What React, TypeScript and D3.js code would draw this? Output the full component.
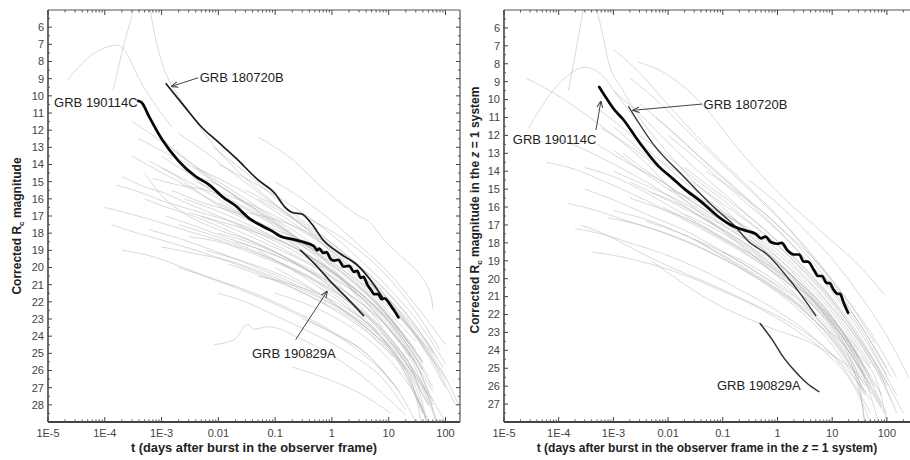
import * as d3 from "d3";

type Pt = [number, number];

// x axis: decades, shared by both panels
const decadeTicks = [1e-5, 1e-4, 1e-3, 0.01, 0.1, 1, 10, 100];
const decadeLabels = ["1E-5", "1E-4", "1E-3", "0.01", "0.1", "1", "10", "100"];
const observerMagTicks = [6, 7, 8, 9, 10, 11, 12, 13, 14, 15, 16, 17, 18, 19, 20, 21, 22, 23, 24, 25, 26, 27, 28];
const restMagTicks = [6, 7, 8, 9, 10, 11, 12, 13, 14, 15, 16, 17, 18, 19, 20, 21, 22, 23, 24, 25, 26, 27];

// --- observer frame (left) ---
const observerGrey: Pt[][] = [
  [[1.4e-4, 9.7], [2e-4, 7.5], [3.2e-4, 5.0]],
  [[6.3e-4, 5.0], [8e-4, 6.8], [1.07e-3, 8.3], [2e-3, 10.0], [4e-3, 11.5], [0.01, 13.2], [0.03, 14.8], [0.1, 16.3], [0.5, 18.2], [2, 20.2], [10, 22.8], [40, 25.5]],
  [[2.2e-5, 9.1], [5e-5, 7.8], [1e-4, 7.2], [1.7e-4, 7.05], [2.5e-4, 7.6], [4e-4, 9.0], [7e-4, 10.3], [1.5e-3, 11.8]],
  [[0.05, 12.4], [0.2, 13.7], [0.6, 15.2], [1.25, 16.1], [2, 16.6], [3, 17.0], [4.4, 17.3], [8.3, 18.4], [20, 19.6], [33, 20.3], [56, 21.7], [60, 22.4]],
  [[0.2, 25.8], [1, 26.6], [3, 27.3], [11, 28.5]],
  [[8.3e-3, 24.5], [0.019, 24.2], [0.033, 23.3], [0.042, 23.6], [0.074, 23.45], [0.3, 24.2], [3, 26.2], [20, 28.6]],
  [[1e-3, 12.5], [3e-3, 13.8], [0.01, 15.0], [0.03, 16.0], [0.1, 17.2], [0.3, 18.2], [1, 19.6], [3, 21.0], [10, 22.8], [30, 24.8]],
  [[2e-3, 14.0], [0.01, 15.8], [0.03, 16.6], [0.1, 17.6], [0.3, 18.7], [1, 20.2], [3, 21.6], [10, 23.5], [40, 26.0]],
  [[1.5e-3, 15.5], [5e-3, 16.2], [0.02, 16.8], [0.1, 17.9], [0.3, 19.0], [1, 20.6], [3, 22.2], [10, 24.0], [30, 26.2], [60, 28.0]],
  [[7e-4, 14.8], [2e-3, 15.2], [8e-3, 15.6], [0.03, 16.5], [0.1, 17.5], [0.5, 19.1], [2, 20.6], [8, 22.5], [25, 24.6]],
  [[3e-3, 16.8], [0.01, 17.3], [0.05, 18.0], [0.2, 18.8], [1, 20.3], [5, 22.4], [20, 24.8], [60, 27.2]],
  [[5e-4, 14.5], [1e-3, 15.8], [3e-3, 17.0], [0.01, 17.8], [0.05, 18.6], [0.3, 20.0], [2, 21.9], [10, 24.1], [50, 27.5]],
  [[0.01, 16.2], [0.03, 17.0], [0.1, 17.8], [0.3, 18.4], [1, 19.3], [3, 20.5], [10, 22.1], [40, 24.5], [100, 26.5]],
  [[4e-3, 15.0], [0.01, 15.6], [0.03, 16.2], [0.1, 17.0], [0.3, 17.9], [1, 19.0], [3, 20.6], [10, 22.6], [30, 24.3]],
  [[0.02, 18.5], [0.06, 19.0], [0.2, 19.7], [1, 21.0], [4, 22.8], [15, 25.0], [50, 27.8], [80, 29.5]],
  [[6e-3, 19.0], [0.02, 19.5], [0.1, 20.3], [0.5, 21.4], [2, 22.7], [10, 24.8], [30, 27.0], [50, 29.5]],
  [[2e-3, 17.5], [6e-3, 18.0], [0.02, 18.6], [0.1, 19.6], [0.5, 20.8], [3, 22.8], [15, 25.5], [40, 28.5]],
  [[0.01, 14.0], [0.03, 14.8], [0.1, 15.8], [0.3, 16.8], [1, 18.1], [3, 19.5], [10, 21.2], [30, 23.0], [100, 25.6]],
  [[0.03, 16.8], [0.1, 17.2], [0.3, 17.8], [1, 18.8], [3, 20.0], [10, 21.8], [30, 23.8], [100, 26.4], [170, 28.0]],
  [[1e-3, 13.5], [3e-3, 14.5], [0.01, 15.2], [0.03, 16.2], [0.1, 17.3], [0.3, 18.5], [1, 20.0], [3, 21.8], [8, 23.5]],
  [[5e-4, 16.0], [1e-3, 16.4], [3e-3, 16.9], [0.01, 17.6], [0.04, 18.5], [0.2, 19.6], [1, 21.2], [5, 23.4], [20, 26.0]],
  [[0.05, 20.5], [0.2, 21.0], [1, 21.9], [5, 23.5], [20, 25.8], [50, 28.0]],
  [[0.1, 21.5], [0.4, 22.2], [2, 23.4], [8, 25.0], [30, 27.5], [60, 29.5]],
  [[2e-3, 20.0], [0.01, 20.8], [0.05, 21.7], [0.2, 22.6], [1, 23.8], [4, 25.0], [12, 26.8]],
  [[4e-4, 12.5], [1e-3, 13.2], [3e-3, 14.0], [0.01, 15.2], [0.04, 16.5], [0.15, 17.8], [0.6, 19.2], [2, 20.4], [6, 21.6], [20, 23.3], [60, 25.0]],
  [[8e-3, 13.0], [0.02, 14.0], [0.06, 15.3], [0.2, 16.8], [0.6, 18.0], [2, 19.4], [6, 20.8], [20, 22.7], [60, 24.8]],
  [[0.02, 17.5], [0.06, 18.3], [0.2, 19.2], [0.7, 20.2], [3, 21.6], [10, 23.2], [30, 25.6], [60, 27.8]],
  [[0.3, 17.0], [1, 17.9], [3, 19.0], [10, 20.6], [30, 22.6], [80, 24.8]],
  [[3e-3, 18.2], [0.01, 18.5], [0.05, 19.3], [0.3, 20.4], [2, 22.0], [10, 24.0], [40, 26.8], [100, 29.0]],
  [[1.2e-3, 17.0], [4e-3, 17.6], [0.015, 18.3], [0.06, 19.0], [0.3, 20.0], [1.5, 21.3], [7, 23.0], [25, 25.2]],
  [[6e-4, 13.8], [1.5e-3, 14.5], [4e-3, 15.5], [0.01, 16.4], [0.05, 17.5], [0.2, 18.4], [1, 19.4], [5, 21.0], [20, 22.9], [70, 25.2]],
  [[0.01, 21.5], [0.03, 22.0], [0.1, 22.8], [0.5, 23.9], [2, 25.0], [8, 26.5], [20, 28.3]],
  [[0.3, 23.0], [1, 23.8], [4, 25.2], [15, 27.2], [30, 29.0]],
  [[2e-4, 14.7], [5e-4, 15.3], [1e-3, 15.6], [3e-3, 16.3], [0.01, 17.0], [0.05, 18.0], [0.3, 19.3], [2, 21.0], [10, 23.0], [40, 25.5]],
  [[1.3e-4, 17.5], [3e-4, 17.9], [1e-3, 18.4], [4e-3, 19.0], [0.02, 19.8], [0.1, 20.7], [0.5, 21.8], [3, 23.3], [12, 25.2]],
  [[0.05, 19.0], [0.3, 20.5], [2, 22.4], [10, 24.3], [25, 25.8], [40, 28.0], [50, 29.5]],
  [[0.1, 20.0], [1, 22.0], [5, 23.8], [15, 25.3], [30, 27.5], [40, 29.5]],
  [[1e-4, 16.5], [3e-4, 16.9], [1e-3, 17.4], [3e-3, 17.9], [0.01, 18.4], [0.05, 19.2], [0.3, 20.3], [2, 22.0], [10, 24.2], [30, 26.4]],
  [[1.6e-4, 15.2], [4e-4, 15.6], [1e-3, 16.1], [5e-3, 16.8], [0.02, 17.4], [0.1, 18.3], [0.5, 19.5], [3, 21.4], [15, 23.8], [50, 26.3]],
  [[3e-4, 13.5], [8e-4, 14.3], [2e-3, 15.0], [6e-3, 15.9], [0.02, 16.8], [0.08, 17.8], [0.4, 19.0], [2, 20.7], [10, 22.9], [40, 25.6]],
  [[2e-3, 12.2], [5e-3, 13.1], [0.015, 14.3], [0.05, 15.6], [0.15, 16.8], [0.5, 18.1], [1.5, 19.4], [5, 21.0], [20, 23.3], [80, 26.0]],
  [[5e-3, 17.0], [0.02, 17.8], [0.08, 18.7], [0.3, 19.6], [1, 20.6], [4, 22.0], [15, 24.1], [40, 26.5], [70, 29.0]],
  [[0.01, 18.0], [0.04, 18.6], [0.15, 19.4], [0.6, 20.4], [2.5, 21.8], [10, 23.6], [30, 25.9], [60, 28.3]],
  [[1e-3, 18.8], [4e-3, 19.2], [0.015, 19.6], [0.06, 20.3], [0.3, 21.3], [1.5, 22.5], [6, 24.0], [20, 26.0], [40, 28.4]],
  [[0.03, 15.5], [0.1, 16.4], [0.3, 17.4], [1, 18.6], [3, 19.9], [10, 21.5], [30, 23.4], [90, 25.8]],
  [[0.1, 15.0], [0.3, 16.0], [1, 17.3], [3, 18.7], [10, 20.3], [30, 22.2], [100, 24.5]],
  [[4e-3, 14.2], [0.01, 14.8], [0.04, 15.9], [0.15, 17.1], [0.5, 18.3], [2, 19.9], [8, 21.7], [30, 24.0], [100, 27.0]],
  [[6e-4, 17.8], [2e-3, 18.3], [8e-3, 19.0], [0.04, 19.9], [0.2, 20.9], [1, 22.1], [5, 23.6], [20, 25.6], [50, 28.0]],
  [[2e-4, 19.0], [6e-4, 19.3], [2e-3, 19.9], [6e-3, 20.5], [0.03, 21.3], [0.15, 22.3], [1, 23.7], [5, 25.3], [15, 27.2]],
  [[0.015, 19.8], [0.05, 20.4], [0.2, 21.2], [1, 22.4], [5, 24.0], [20, 26.2], [45, 28.8]],
  [[1e-3, 14.2], [3e-3, 15.0], [0.01, 16.0], [0.03, 17.0], [0.1, 18.0], [0.4, 19.3], [2, 21.0], [10, 23.1], [40, 25.9]],
  [[2.5e-3, 16.0], [8e-3, 16.6], [0.025, 17.3], [0.08, 18.1], [0.3, 19.1], [1.2, 20.4], [5, 22.1], [20, 24.4], [60, 27.0]],
  [[0.05, 16.0], [0.15, 16.9], [0.5, 18.0], [1.5, 19.2], [5, 20.8], [15, 22.6], [50, 25.0], [150, 28.0]],
  [[3e-4, 11.5], [7e-4, 12.3], [2e-3, 13.4], [6e-3, 14.6], [0.02, 15.9], [0.07, 17.1], [0.25, 18.3], [1, 19.8], [4, 21.5], [15, 23.6]],
];

const observer190114C: Pt[] = [
  [3.9e-4, 10.3], [4.5e-4, 10.4], [6e-4, 11.2], [1e-3, 12.5], [2e-3, 13.8], [4e-3, 14.7], [7e-3, 15.2],
  [0.012, 15.9], [0.02, 16.4], [0.037, 17.2], [0.06, 17.6], [0.09, 17.9], [0.126, 18.2], [0.2, 18.35],
  [0.3, 18.5], [0.48, 18.75], [0.55, 19.0], [0.6, 18.9], [0.7, 19.15], [0.8, 19.1], [0.95, 19.5], [1.1, 19.6],
  [1.3, 19.55], [1.6, 19.95], [2, 19.9], [2.45, 20.25], [2.8, 20.2], [3.2, 20.6], [3.6, 20.55], [4.2, 21.0],
  [5, 21.35], [5.5, 21.55], [6.5, 21.55], [7.5, 21.85], [8.5, 21.8], [9.8, 22.0], [11, 22.25], [12.5, 22.5], [14.8, 22.9],
];
const observer180720B: Pt[] = [
  [1.2e-3, 9.3], [2.5e-3, 10.6], [5e-3, 11.8], [0.01, 12.7], [0.02, 13.6], [0.05, 14.9], [0.1, 15.7],
  [0.15, 16.5], [0.2, 16.8], [0.3, 16.9], [0.45, 17.5], [0.7, 18.4], [1.4, 19.2], [2.9, 19.9], [5.5, 21.0], [8, 21.8],
];
const observer190829A: Pt[] = [[0.28, 19.0], [0.5, 19.8], [1, 20.9], [2, 21.9], [3.6, 22.8]];

// --- z = 1 frame (right) ---
const restGrey: Pt[][] = [
  [[1.5e-4, 9.5], [2e-4, 7.5], [2.8e-4, 5.0]],
  [[5e-4, 5.0], [6.5e-4, 6.5], [8e-4, 7.8], [1.5e-3, 9.5], [3e-3, 11.0], [0.01, 13.0], [0.03, 14.6], [0.1, 16.0], [0.5, 18.2], [3, 20.6], [15, 23.2], [60, 26.0]],
  [[2.8e-5, 11.6], [1.1e-4, 9.0], [3e-4, 8.2], [6e-4, 8.6], [1.2e-3, 9.8], [3e-3, 11.4]],
  [[2.5e-5, 8.8], [1e-4, 9.8], [3e-4, 10.8], [1e-3, 12.0], [3e-3, 13.2], [0.01, 14.8], [0.05, 16.6], [0.3, 18.5], [2, 20.8], [10, 23.2], [50, 26.2]],
  [[1e-3, 7.2], [3e-3, 8.5], [0.01, 10.3], [0.03, 11.9], [0.1, 13.5], [0.3, 14.9], [1, 16.5], [3, 18.2], [10, 20.2], [30, 22.4], [100, 25.0]],
  [[2.8e-3, 7.9], [8.5e-3, 8.5], [0.046, 10.4], [0.19, 12.75], [1.3, 15.5], [5.5, 17.2], [45, 19.8], [90, 20.9]],
  [[1e-3, 11.5], [3e-3, 12.8], [0.01, 14.2], [0.03, 15.3], [0.1, 16.3], [0.3, 17.4], [1, 18.8], [3, 20.3], [10, 22.1], [30, 24.3], [80, 26.5]],
  [[5e-4, 12.5], [2e-3, 13.6], [8e-3, 14.6], [0.03, 15.8], [0.1, 16.8], [0.5, 18.3], [2, 19.9], [8, 21.8], [30, 24.4]],
  [[1e-3, 14.0], [4e-3, 14.8], [0.015, 15.6], [0.05, 16.5], [0.2, 17.6], [1, 19.2], [4, 20.8], [15, 22.9], [50, 25.5]],
  [[2e-3, 15.5], [6e-3, 16.0], [0.02, 16.6], [0.1, 17.7], [0.5, 19.0], [2, 20.5], [8, 22.4], [30, 24.9], [100, 27.5]],
  [[3e-4, 15.0], [1e-3, 15.6], [4e-3, 16.4], [0.02, 17.3], [0.1, 18.5], [0.5, 19.8], [3, 21.7], [15, 24.2], [50, 26.8]],
  [[8e-4, 16.6], [3e-3, 17.0], [0.01, 17.5], [0.05, 18.4], [0.3, 19.7], [2, 21.5], [10, 23.7], [40, 26.5]],
  [[4.9e-3, 19.0], [0.081, 21.45], [0.68, 22.7], [5.5, 23.8], [45, 26.05], [90, 27.5]],
  [[3e-3, 12.0], [0.01, 13.2], [0.03, 14.4], [0.1, 15.6], [0.3, 16.8], [1, 18.1], [3, 19.6], [10, 21.4], [30, 23.5], [100, 26.0]],
  [[6e-3, 11.0], [0.02, 12.4], [0.06, 13.8], [0.2, 15.2], [0.6, 16.6], [2, 18.2], [6, 19.9], [20, 22.0], [60, 24.3], [150, 26.5]],
  [[2e-4, 17.2], [6e-4, 17.5], [2e-3, 18.0], [8e-3, 18.6], [0.04, 19.5], [0.2, 20.6], [1, 21.8], [5, 23.4], [20, 25.4], [50, 27.5]],
  [[1.5e-3, 13.0], [5e-3, 14.2], [0.02, 15.4], [0.08, 16.6], [0.3, 17.8], [1, 19.0], [3, 20.6], [10, 22.6], [40, 25.4]],
  [[0.01, 15.0], [0.03, 15.6], [0.1, 16.4], [0.3, 17.2], [1, 18.4], [3, 19.8], [10, 21.6], [40, 24.0], [120, 26.8]],
  [[4e-3, 16.8], [0.015, 17.4], [0.06, 18.2], [0.3, 19.2], [1.5, 20.6], [6, 22.2], [25, 24.5], [80, 27.2]],
  [[1e-3, 12.8], [3e-3, 13.9], [0.01, 15.0], [0.04, 16.2], [0.15, 17.3], [0.6, 18.6], [2.5, 20.2], [10, 22.4], [40, 25.0]],
  [[0.02, 13.8], [0.06, 14.9], [0.2, 16.1], [0.6, 17.3], [2, 18.8], [6, 20.3], [20, 22.3], [60, 24.6], [200, 27.5]],
  [[5e-4, 10.5], [1.5e-3, 11.6], [5e-3, 13.0], [0.02, 14.6], [0.08, 16.0], [0.3, 17.3], [1, 18.6], [4, 20.3], [15, 22.4], [50, 24.8]],
  [[1e-4, 12.2], [3e-4, 12.8], [1e-3, 13.6], [4e-3, 14.6], [0.015, 15.7], [0.06, 16.9], [0.3, 18.3], [1.5, 19.9], [8, 21.9], [30, 24.0]],
  [[2.5e-4, 17.0], [8e-4, 17.6], [2.5e-3, 18.4], [0.01, 19.3], [0.05, 20.2], [0.3, 21.3], [2, 22.6], [10, 24.2], [40, 26.3]],
  [[0.05, 14.0], [0.15, 15.0], [0.5, 16.2], [1.5, 17.5], [5, 19.0], [15, 20.8], [50, 23.0], [150, 25.5]],
  [[8e-3, 16.0], [0.03, 16.9], [0.1, 17.8], [0.4, 18.8], [2, 20.3], [8, 22.0], [30, 24.2], [70, 26.0], [100, 28.0]],
  [[0.1, 18.5], [0.5, 19.8], [2, 21.0], [8, 22.8], [20, 24.3], [35, 27.0], [45, 29.0]],
  [[0.03, 17.8], [0.2, 19.3], [1, 20.6], [5, 22.2], [15, 23.8], [30, 25.5], [40, 28.5]],
  [[3e-4, 13.8], [1e-3, 14.3], [3e-3, 15.0], [0.01, 15.9], [0.04, 17.0], [0.15, 18.1], [0.6, 19.3], [3, 21.0], [12, 23.0], [40, 25.6]],
  [[1e-3, 9.5], [3e-3, 10.8], [0.01, 12.4], [0.03, 13.8], [0.1, 15.2], [0.3, 16.5], [1, 17.9], [3, 19.4], [10, 21.2], [30, 23.3], [100, 25.8]],
  [[2e-3, 8.8], [6e-3, 10.0], [0.02, 11.6], [0.06, 13.0], [0.2, 14.5], [0.6, 15.9], [2, 17.5], [6, 19.2], [20, 21.3], [60, 23.6]],
  [[6e-4, 11.6], [2e-3, 12.6], [6e-3, 13.7], [0.02, 14.9], [0.06, 16.0], [0.2, 17.2], [0.8, 18.6], [3, 20.1], [12, 22.2], [50, 25.0]],
  [[2e-3, 14.6], [6e-3, 15.3], [0.02, 16.1], [0.08, 17.1], [0.3, 18.2], [1, 19.5], [4, 21.1], [15, 23.2], [50, 25.9]],
  [[5e-3, 15.2], [0.015, 15.8], [0.05, 16.7], [0.2, 17.8], [0.8, 19.1], [3, 20.6], [10, 22.3], [30, 24.4], [80, 27.0]],
  [[1.5e-4, 15.8], [5e-4, 16.2], [1.5e-3, 16.7], [5e-3, 17.2], [0.02, 17.9], [0.1, 18.9], [0.5, 20.1], [2.5, 21.6], [10, 23.4], [40, 26.0]],
  [[0.01, 12.0], [0.03, 13.2], [0.1, 14.6], [0.3, 15.9], [1, 17.3], [3, 18.8], [10, 20.6], [30, 22.6], [100, 25.4]],
  [[3e-3, 10.2], [0.01, 11.6], [0.03, 12.9], [0.1, 14.3], [0.3, 15.6], [1, 17.0], [3, 18.5], [10, 20.4], [40, 23.0], [120, 25.5]],
  [[4e-4, 18.5], [1.5e-3, 18.8], [5e-3, 19.2], [0.02, 19.8], [0.1, 20.7], [0.5, 21.7], [2, 22.8], [8, 24.2], [25, 26.0], [50, 28.0]],
  [[0.02, 16.4], [0.08, 17.3], [0.3, 18.4], [1, 19.6], [4, 21.2], [15, 23.2], [40, 25.6], [70, 28.0]],
  [[1e-3, 16.2], [4e-3, 16.7], [0.015, 17.4], [0.06, 18.3], [0.25, 19.4], [1, 20.6], [4, 22.1], [15, 24.0], [40, 26.4]],
  [[0.3, 14.5], [1, 15.8], [3, 17.2], [10, 18.9], [30, 20.8], [100, 23.2], [250, 25.5]],
  [[6e-5, 13.5], [2e-4, 13.9], [6e-4, 14.5], [2e-3, 15.2], [8e-3, 16.1], [0.03, 17.0], [0.15, 18.2], [0.8, 19.6], [4, 21.3], [20, 23.6]],
  [[8e-3, 13.5], [0.025, 14.5], [0.08, 15.6], [0.25, 16.7], [0.8, 17.9], [2.5, 19.3], [8, 20.9], [25, 22.9], [70, 25.1], [150, 27.5]],
];

const rest190114C: Pt[] = [
  [5.5e-4, 9.3], [7e-4, 9.8], [1e-3, 10.5], [1.5e-3, 11.1], [3e-3, 12.4], [6.6e-3, 13.7], [0.012, 14.4],
  [0.02, 15.0], [0.04, 15.7], [0.08, 16.5], [0.14, 17.0], [0.2, 17.2], [0.29, 17.35], [0.4, 17.5], [0.5, 17.75],
  [0.6, 17.65], [0.75, 17.95], [1, 18.05], [1.2, 18.0], [1.5, 18.4], [2, 18.65], [2.5, 18.65], [3, 19.05], [3.6, 19.05],
  [4.7, 19.55], [5.5, 19.85], [6.5, 19.85], [8, 20.25], [9, 20.25], [10.5, 20.6], [12.6, 20.85], [14, 20.85], [16, 21.3], [19.5, 21.9],
];
const rest180720B: Pt[] = [
  [1.9e-3, 10.4], [5.7e-3, 12.6], [0.0186, 14.25], [0.063, 15.9], [0.17, 17.1], [0.29, 17.9], [0.68, 18.7],
  [1.55, 19.95], [2.7, 20.9], [5, 22.05],
];
const rest190829A: Pt[] = [[0.48, 22.5], [0.8, 23.4], [1.26, 24.35], [2, 25.1], [3.5, 25.85], [5.7, 26.3]];

type Highlight = { pts: Pt[]; width: number; color: string };
type Note = { text: string; at: Pt; anchor: string; arrow?: [Pt, Pt] };

type PanelSpec = {
  id: string;
  left: number;
  right: number;
  xMax: number;
  yDomain: [number, number];
  yTicks: number[];
  grey: Pt[][];
  lines: Highlight[];
  notes: Note[];
  xTitle: any;
  xTitleSize: number;
  yTitle: any;
  yTitleX: number;
  yTitleY: number;
  rightAxis: boolean;
};

const TOP = 10;
const BOTTOM = 422;
const FONT = "'Liberation Sans', Arial, sans-serif";

function Panel({ p }: { p: PanelSpec }) {
  const x = d3.scaleLog().domain([1e-5, p.xMax]).range([p.left, p.right]);
  const y = d3.scaleLinear().domain(p.yDomain).range([TOP, BOTTOM]);
  const smooth = d3.line<Pt>().x(d => x(d[0])).y(d => y(d[1])).curve(d3.curveMonotoneX);

  const minor: number[] = [];
  decadeTicks.concat([1000]).forEach(dec => {
    for (let k = 2; k <= 9; k++) {
      const v = dec * k;
      if (v < p.xMax) minor.push(v);
    }
  });
  const yMinor = p.yTicks.map(t => t + 0.5).concat([p.yTicks[0] - 0.5]);
  const xEnd = Math.min(p.right, 910);

  return (
    <g>
      <defs>
        <clipPath id={`clip-${p.id}`}>
          <rect x={p.left} y={TOP} width={p.right - p.left} height={BOTTOM - TOP} />
        </clipPath>
      </defs>
      <g clipPath={`url(#clip-${p.id})`}>
        {p.grey.map((c, i) => (
          <path key={i} d={smooth(c) ?? ""} fill="none" stroke="#a4a4a4" strokeOpacity={0.42} strokeWidth={1} />
        ))}
        {p.lines.map((l, i) => (
          <path key={i} d={smooth(l.pts) ?? ""} fill="none" stroke={l.color} strokeWidth={l.width} strokeLinejoin="round" strokeLinecap="round" />
        ))}
      </g>
      {/* frame */}
      <line x1={p.left} x2={xEnd} y1={TOP} y2={TOP} stroke="#555" strokeWidth={1.2} />
      <line x1={p.left} x2={xEnd} y1={BOTTOM} y2={BOTTOM} stroke="#444" strokeWidth={2} />
      <line x1={p.left} x2={p.left} y1={TOP} y2={BOTTOM} stroke="#444" strokeWidth={1.6} />
      {p.rightAxis && <line x1={p.right} x2={p.right} y1={TOP} y2={BOTTOM} stroke="#555" strokeWidth={1.2} />}
      {/* x ticks */}
      {decadeTicks.map(t => (
        <g key={t}>
          <line x1={x(t)} x2={x(t)} y1={BOTTOM} y2={BOTTOM - 5} stroke="#444" />
          <line x1={x(t)} x2={x(t)} y1={TOP} y2={TOP + 5} stroke="#444" />
        </g>
      ))}
      {minor.map(t => (
        <g key={`m${t}`}>
          <line x1={x(t)} x2={x(t)} y1={BOTTOM} y2={BOTTOM - 2.5} stroke="#555" />
          <line x1={x(t)} x2={x(t)} y1={TOP} y2={TOP + 2.5} stroke="#555" />
        </g>
      ))}
      {decadeLabels.map((s, i) => (
        <text key={s} x={x(decadeTicks[i])} y={BOTTOM + 15} textAnchor="middle" fontSize={11} fill="#444" fontFamily={FONT}>
          {s}
        </text>
      ))}
      {/* y ticks */}
      {p.yTicks.map(t => (
        <g key={t}>
          <line x1={p.left} x2={p.left + 4} y1={y(t)} y2={y(t)} stroke="#444" />
          {p.rightAxis && <line x1={p.right} x2={p.right - 4} y1={y(t)} y2={y(t)} stroke="#444" />}
          <text x={p.left - 4} y={y(t)} dy="0.35em" textAnchor="end" fontSize={11} fill="#444" fontFamily={FONT}>
            {t}
          </text>
        </g>
      ))}
      {yMinor.map(t => (
        <g key={`ym${t}`}>
          <line x1={p.left} x2={p.left + 2} y1={y(t)} y2={y(t)} stroke="#555" />
          {p.rightAxis && <line x1={p.right} x2={p.right - 2} y1={y(t)} y2={y(t)} stroke="#555" />}
        </g>
      ))}
      {/* annotations */}
      {p.notes.map(n => (
        <g key={n.text}>
          {n.arrow && (
            <line
              x1={x(n.arrow[0][0])}
              y1={y(n.arrow[0][1])}
              x2={x(n.arrow[1][0])}
              y2={y(n.arrow[1][1])}
              stroke="#444"
              strokeWidth={1}
              markerEnd="url(#arrowhead)"
            />
          )}
          <text x={x(n.at[0])} y={y(n.at[1])} dy="0.35em" textAnchor={n.anchor} fontSize={13} fill="#222" fontFamily={FONT}>
            {n.text}
          </text>
        </g>
      ))}
      {/* titles */}
      <text x={(p.left + xEnd) / 2} y={452} textAnchor="middle" fontSize={p.xTitleSize} fontWeight="bold" fill="#222" fontFamily={FONT}>
        {p.xTitle}
      </text>
      <text
        transform={`translate(${p.yTitleX},${p.yTitleY}) rotate(-90)`}
        textAnchor="middle"
        fontSize={12}
        fontWeight="bold"
        fill="#222"
        fontFamily={FONT}
      >
        {p.yTitle}
      </text>
    </g>
  );
}

const panels: PanelSpec[] = [
  {
    id: "obs",
    left: 48,
    right: 460,
    xMax: 180,
    yDomain: [5, 29],
    yTicks: observerMagTicks,
    grey: observerGrey,
    lines: [
      { pts: observer180720B, width: 1.7, color: "#1c1c1c" },
      { pts: observer190829A, width: 1.7, color: "#2a2a2a" },
      { pts: observer190114C, width: 2.7, color: "#050505" },
    ],
    notes: [
      { text: "GRB 180720B", at: [4.7e-3, 8.95], anchor: "start", arrow: [[4.4e-3, 8.95], [1.5e-3, 9.45]] },
      { text: "GRB 190114C", at: [3.8e-4, 10.4], anchor: "end" },
      { text: "GRB 190829A", at: [0.039, 25.0], anchor: "start", arrow: [[0.23, 24.2], [0.82, 21.4]] },
    ],
    xTitle: "t (days after burst in the observer frame)",
    xTitleSize: 12.8,
    yTitle: (
      <>
        Corrected R<tspan fontSize={8} dy={3}>c</tspan>
        <tspan dy={-3}> magnitude</tspan>
      </>
    ),
    yTitleX: 21,
    yTitleY: 226,
    rightAxis: true,
  },
  {
    id: "rest",
    left: 504,
    right: 913,
    xMax: 300,
    yDomain: [5, 28],
    yTicks: restMagTicks,
    grey: restGrey,
    lines: [
      { pts: rest180720B, width: 1.4, color: "#333" },
      { pts: rest190829A, width: 1.5, color: "#333" },
      { pts: rest190114C, width: 2.7, color: "#050505" },
    ],
    notes: [
      { text: "GRB 180720B", at: [0.0445, 10.25], anchor: "start", arrow: [[0.042, 10.25], [2.3e-3, 10.6]] },
      { text: "GRB 190114C", at: [1.45e-5, 12.2], anchor: "start", arrow: [[4.8e-4, 11.7], [5.9e-4, 10.1]] },
      { text: "GRB 190829A", at: [0.078, 25.95], anchor: "start" },
    ],
    xTitle: (
      <>
        t (days after burst in the observer frame in the <tspan fontStyle="italic">z</tspan> = 1 system)
      </>
    ),
    xTitleSize: 12,
    yTitle: (
      <>
        Corrected R<tspan fontSize={8} dy={3}>c</tspan>
        <tspan dy={-3}> magnitude in the </tspan>
        <tspan fontStyle="italic">z</tspan> = 1 system
      </>
    ),
    yTitleX: 479,
    yTitleY: 210,
    rightAxis: false,
  },
];

export default function App() {
  return (
    <svg width={910} height={460} style={{ position: "absolute", left: 0, top: 0, background: "#fff" }}>
      <defs>
        <marker id="arrowhead" viewBox="0 0 10 10" refX="9" refY="5" markerWidth="7" markerHeight="7" orient="auto-start-reverse">
          <path d="M0,1 L10,5 L0,9" fill="none" stroke="#444" strokeWidth={1.5} />
        </marker>
      </defs>
      <rect width={910} height={460} fill="#fff" />
      {panels.map(p => (
        <Panel key={p.id} p={p} />
      ))}
    </svg>
  );
}
